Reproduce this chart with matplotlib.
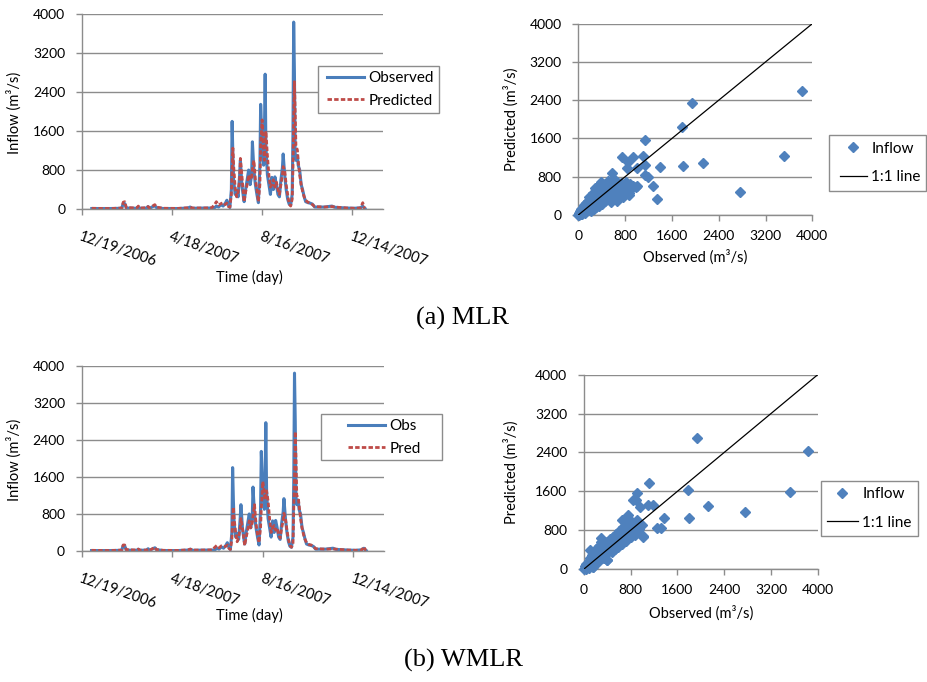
import datetime as dt
import matplotlib.pyplot as plt
from matplotlib.patches import Rectangle

plt.rcParams['font.family'] = ['Lato', 'DejaVu Sans']

# daily inflow (m3/s) for 2007, day 0 = 1 Jan
day = [0, 10, 25, 40, 42, 44, 46, 60, 62, 64, 73, 75, 77, 84, 86, 95, 115, 128,
       131, 134, 150, 160, 164, 166, 169, 172, 175, 178, 180, 182, 184, 186,
       187, 188, 189, 191, 193, 195, 197, 198, 200, 202, 203, 205, 207, 209,
       211, 213, 214, 216, 218, 220, 222, 224, 225, 227, 229, 230, 231, 232,
       234, 236, 238, 240, 242, 244, 246, 248, 250, 252, 254, 255, 257, 259,
       261, 263, 265, 267, 268, 269, 270, 271, 272, 274, 275, 277, 279, 281,
       283, 285, 288, 291, 294, 297, 310, 320, 324, 340, 350, 358, 361, 363, 364]
observed = [10, 10, 10, 15, 120, 110, 20, 15, 40, 15, 20, 50, 15, 70, 30, 10, 10, 20,
            40, 15, 20, 20, 30, 60, 40, 90, 60, 120, 180, 80, 30, 400,
            1800, 1100, 600, 300, 380, 250, 700, 1000, 500, 250, 150, 400, 600, 800,
            500, 700, 1380, 800, 500, 300, 130, 900, 2150, 1300, 900, 1500, 2770, 1300,
            700, 500, 300, 650, 400, 660, 500, 300, 250, 600, 850, 1130, 700, 400,
            200, 100, 80, 300, 1500, 3840, 2800, 1150, 1000, 1100, 900, 800, 500, 390,
            250, 150, 130, 120, 100, 40, 40, 60, 35, 20, 15, 25, 60, 20, 10]
mlr_pred = [15, 12, 10, 20, 140, 150, 30, 20, 60, 20, 25, 50, 20, 90, 40, 15, 12, 25,
            40, 20, 20, 25, 100, 150, 80, 110, 130, 90, 120, 50, 40, 300,
            800, 1250, 900, 450, 250, 350, 600, 1040, 700, 300, 150, 350, 500, 700,
            600, 650, 800, 1000, 600, 400, 150, 500, 1300, 1830, 1200, 1000, 1400, 1600,
            1100, 700, 450, 500, 600, 450, 550, 400, 300, 500, 700, 870, 800, 500,
            300, 100, 60, 200, 800, 1800, 2615, 2000, 1300, 1210, 1000, 700, 500, 350,
            250, 180, 140, 120, 90, 50, 40, 50, 40, 20, 15, 20, 130, 30, 15]
wmlr_pred = [15, 12, 10, 20, 130, 130, 30, 20, 40, 20, 20, 40, 15, 80, 30, 15, 12, 25,
             40, 20, 20, 25, 90, 120, 70, 110, 100, 100, 130, 60, 30, 250,
             700, 950, 700, 400, 200, 300, 500, 700, 500, 250, 120, 300, 450, 650,
             500, 600, 750, 1000, 600, 350, 180, 500, 900, 1500, 1250, 1100, 1200, 1300,
             1080, 700, 400, 500, 550, 450, 500, 350, 280, 500, 650, 814, 700, 450,
             250, 120, 80, 150, 900, 1600, 2577, 2000, 1200, 1150, 1000, 700, 500, 350,
             250, 180, 140, 130, 100, 50, 40, 45, 40, 20, 15, 20, 90, 25, 15]

date_ticks = ['12/19/2006', '4/18/2007', '8/16/2007', '12/14/2007']

# observed vs predicted pairs, MLR
mlr_obs = [3818, 3521, 2764, 2137, 1784, 1943, 1767, 1396, 1350, 1282, 1140, 1111,
           1140, 1140, 1196, 940, 742, 855, 827, 998, 571, 998, 872, 713,
           0, 10, 20, 30, 40, 50, 60, 70, 80, 90, 100, 110, 120, 130, 140, 150,
           160, 170, 180, 190, 200, 210, 220, 230, 240, 250, 260, 270, 280, 290,
           300, 310, 320, 330, 340, 350, 360, 370, 380, 390, 400, 410, 420, 430,
           440, 450, 460, 480, 490, 500, 510, 530, 540, 550, 560, 570, 580, 600,
           610, 620, 640, 650, 660, 670, 680, 700, 720, 730, 750, 770, 790, 800,
           820, 840, 860, 880, 900, 940, 980]
mlr_prd = [2592, 1233, 488, 1080, 1024, 2334, 1833, 1010, 328, 606, 1568, 1233,
           1045, 836, 801, 1219, 1219, 1115, 975, 975, 871, 606, 453, 383,
           0, 40, 10, 80, 30, 120, 60, 20, 150, 90, 200, 50, 130, 250, 80, 180,
           300, 120, 220, 380, 150, 260, 90, 330, 200, 450, 120, 300, 560, 220,
           380, 160, 470, 600, 280, 400, 180, 520, 700, 330, 450, 240, 580, 380,
           500, 300, 650, 420, 560, 350, 720, 480, 600, 380, 280, 520, 680, 450,
           760, 560, 400, 620, 300, 700, 500, 580, 420, 660, 540, 380, 620, 480,
           700, 560, 420, 640, 540, 600, 580]

# observed vs predicted pairs, WMLR
wmlr_obs = [3829, 3526, 2756, 2128, 1940, 1775, 1792, 1375, 1318, 1244, 1113, 1004,
            987, 1101, 1187, 959, 902, 833, 890, 759, 645, 1015, 291, 103, 160, 388,
            0, 10, 20, 30, 40, 50, 60, 70, 80, 90, 100, 110, 120, 130, 140, 150,
            160, 170, 180, 190, 200, 210, 220, 230, 240, 250, 260, 270, 280, 290,
            300, 310, 320, 330, 340, 350, 360, 370, 380, 390, 400, 420, 430, 440,
            460, 470, 480, 490, 500, 520, 530, 540, 560, 580, 590, 600, 620, 640,
            650, 660, 680, 700, 720, 740, 760, 780, 800, 820, 840, 860, 880, 900, 940]
wmlr_prd = [2429, 1592, 1180, 1297, 2690, 1626, 1057, 1057, 851, 851, 1777, 686,
            906, 1317, 1317, 1283, 1557, 1420, 1420, 1111, 1008, 665, 631, 391, 48, 185,
            0, 30, 60, 10, 100, 40, 130, 70, 20, 160, 100, 220, 60, 180, 280, 120,
            50, 240, 330, 160, 260, 420, 200, 300, 150, 380, 480, 260, 340, 560,
            230, 400, 300, 480, 220, 380, 520, 300, 450, 190, 560, 380, 500, 620,
            420, 560, 350, 650, 480, 600, 420, 720, 540, 640, 460, 780, 560, 700,
            520, 860, 620, 760, 580, 900, 700, 820, 650, 960, 760, 880, 700, 1000, 820]

blue = '#4a7ebb'
red = '#be4b48'
grid_gray = '#8c8c8c'
yticks = [0, 800, 1600, 2400, 3200, 4000]

start = dt.date(2007, 1, 1)
dates = [start + dt.timedelta(days=d) for d in day]
tick_dates = [dt.date(2006, 12, 19) + dt.timedelta(days=120 * i) for i in range(4)]

fig = plt.figure(figsize=(9.27, 6.82), dpi=100)


def style_axes(ax):
    for side in ('top', 'right'):
        ax.spines[side].set_visible(False)
    for side in ('left', 'bottom'):
        ax.spines[side].set_color(grid_gray)
        ax.spines[side].set_linewidth(1.0)
    ax.set_ylim(0, 4000)
    ax.set_yticks(yticks)
    ax.grid(axis='y', color=grid_gray, linewidth=1.0)
    ax.set_axisbelow(True)
    ax.tick_params(axis='both', direction='out', length=4, width=1.0,
                   color=grid_gray, labelsize=10, labelcolor='black')
    ax.tick_params(axis='y', pad=8)


def time_panel(rect, pred, names, lab_x, lab_y, time_y):
    ax = fig.add_axes(rect)
    style_axes(ax)
    ax.plot(dates, observed, color=blue, lw=2.2, label=names[0])
    ax.plot(dates, pred, color=red, lw=2.0, dashes=(1.6, 0.8), label=names[1])
    ax.set_xlim(tick_dates[0], tick_dates[0] + dt.timedelta(days=401))
    ax.set_xticks(tick_dates)
    ax.set_xticklabels(date_ticks, rotation=-19, ha='left', va='top',
                       rotation_mode='anchor', fontsize=10.5)
    ax.tick_params(axis='x', pad=11)
    ax.set_ylabel('Inflow (m³/s)', fontsize=10.5)
    ax.yaxis.set_label_coords(lab_x, lab_y)
    ax.set_xlabel('Time (day)', fontsize=10.5)
    ax.xaxis.set_label_coords(0.555, time_y)
    return ax


def scatter_panel(rect, obs, prd, lab_x, obs_y):
    ax = fig.add_axes(rect)
    style_axes(ax)
    ax.plot(obs, prd, linestyle='none', marker='D', markersize=4.8,
            color='#4f81bd', clip_on=False, label='Inflow', zorder=3)
    ax.plot([0, 4000], [0, 4000], color='black', lw=0.9, label='1:1 line', zorder=4)
    ax.set_xlim(0, 4000)
    ax.set_xticks(yticks)
    ax.tick_params(axis='x', pad=7)
    ax.set_ylabel('Predicted (m³/s)', fontsize=10.5)
    ax.yaxis.set_label_coords(lab_x, 0.5)
    ax.set_xlabel('Observed (m³/s)', fontsize=10.5)
    ax.xaxis.set_label_coords(0.5, obs_y)
    return ax


def boxed_legend(ax, box, anchor, spacing, hlen):
    # legend frame in pixels (x0, y0, x1, y1); entries sit on top of it
    x0, y0, x1, y1 = box
    fig.patches.append(Rectangle((x0 / 927, 1 - y1 / 682), (x1 - x0) / 927,
                                 (y1 - y0) / 682, transform=fig.transFigure,
                                 facecolor='white', edgecolor=grid_gray, lw=1.0,
                                 zorder=5))
    handles, labels = ax.get_legend_handles_labels()
    leg = fig.legend(handles, labels, loc='center left',
                     bbox_to_anchor=(anchor[0] / 927, 1 - anchor[1] / 682),
                     frameon=False, borderpad=0, borderaxespad=0, fontsize=11,
                     labelspacing=spacing, handlelength=hlen, handletextpad=0.3,
                     numpoints=1)
    leg.set_zorder(6)
    return leg


ax1 = time_panel([82 / 927, 1 - 209 / 682, 301 / 927, 194.7 / 682], mlr_pred,
                 ('Observed', 'Predicted'), -0.199, 0.493, -0.313)
ax2 = scatter_panel([578.3 / 927, 1 - 215 / 682, 234 / 927, 191.3 / 682],
                    mlr_obs, mlr_prd, -0.253, -0.18)
ax3 = time_panel([81.7 / 927, 1 - 551 / 682, 302.6 / 927, 185.3 / 682], wmlr_pred,
                 ('Obs', 'Pred'), -0.198, 0.491, -0.309)
ax4 = scatter_panel([584 / 927, 1 - 569 / 682, 233.7 / 927, 194.3 / 682],
                    wmlr_obs, wmlr_prd, -0.281, -0.185)

boxed_legend(ax1, (318, 66, 439, 113), (327, 89.5), 0.55, 2.4)
boxed_legend(ax2, (829, 135, 926, 191), (840, 162.8), 0.95, 1.75)
boxed_legend(ax3, (321, 414, 442, 460), (348, 437.5), 0.55, 2.4)
boxed_legend(ax4, (821, 481, 918, 536), (827, 508.3), 0.95, 2.0)

fig.text(463 / 927, 1 - 318 / 682, '(a) MLR', ha='center', va='center',
         family='Liberation Serif', fontsize=19)
fig.text(463 / 927, 1 - 660 / 682, '(b) WMLR', ha='center', va='center',
         family='Liberation Serif', fontsize=19)

fig.savefig('out.png', dpi=100)
